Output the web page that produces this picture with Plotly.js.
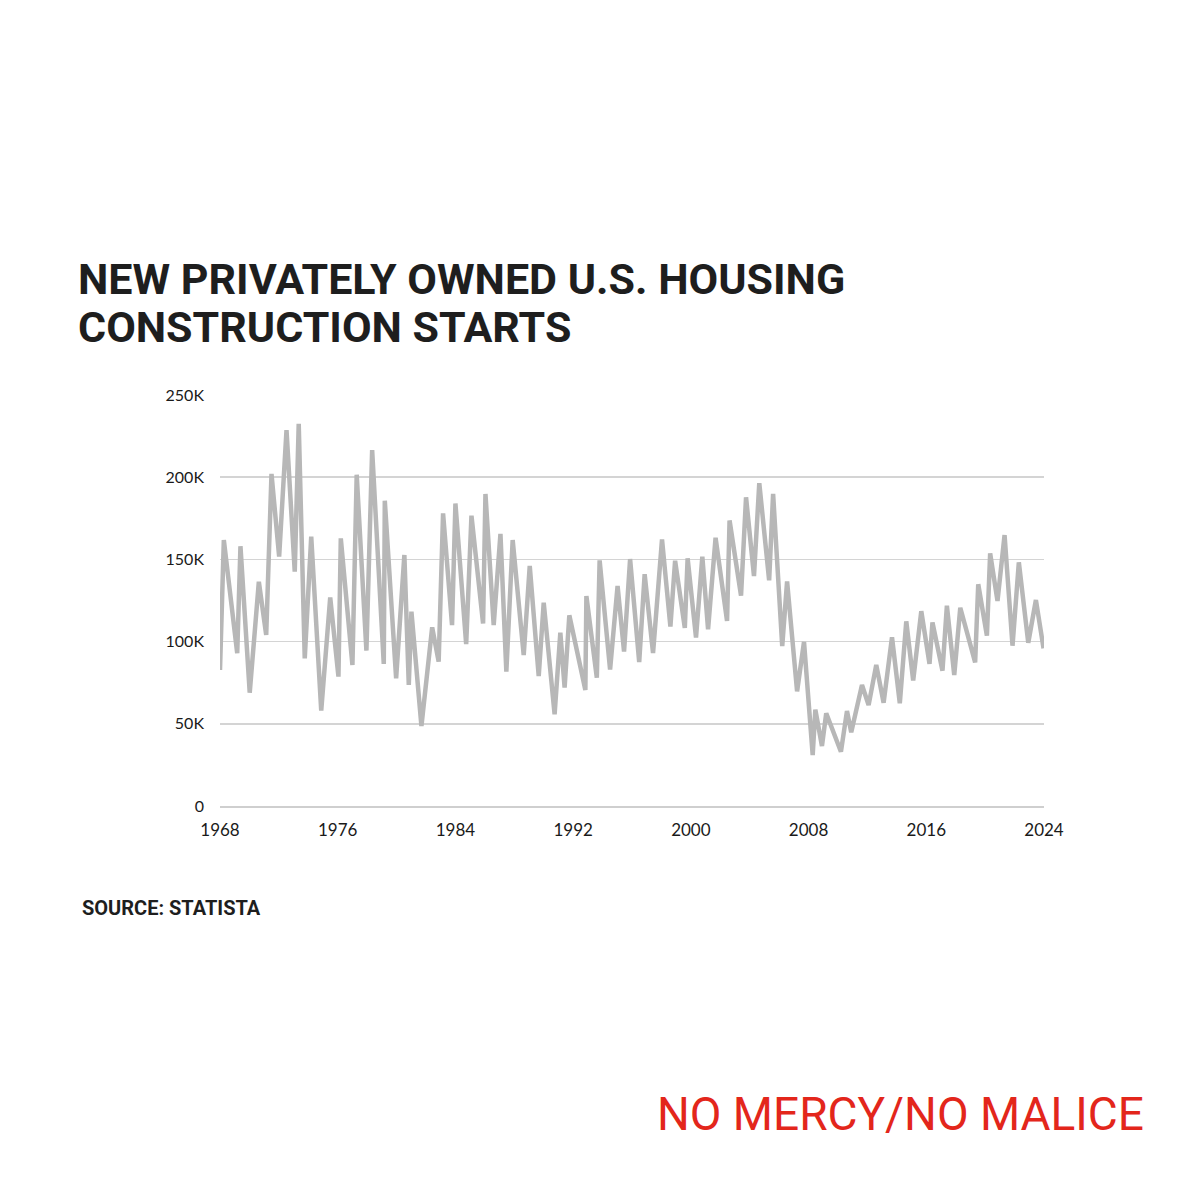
<!DOCTYPE html>
<html>
<head>
<meta charset="utf-8">
<script src="https://cdn.plot.ly/plotly-3.0.1.min.js"></script>
<style>
  html, body { margin: 0; padding: 0; background: #ffffff; }
  #chart { width: 1200px; height: 1200px; }
</style>
</head>
<body>
<div id="chart"></div>
<script>
// Time positions (fractional years) of each point
const years = [
  1968.00, 1968.26, 1969.17, 1969.39, 1970.02, 1970.64, 1971.14, 1971.50, 1972.02, 1972.52,
  1973.08, 1973.35, 1973.76, 1974.20, 1974.88, 1975.49, 1976.05, 1976.21, 1977.00, 1977.29,
  1977.95, 1978.34, 1979.13, 1979.20, 1979.97, 1980.53, 1980.83, 1981.01, 1981.69, 1982.42,
  1982.86, 1983.16, 1983.77, 1984.00, 1984.73, 1985.09, 1985.88, 1986.04, 1986.60, 1987.06,
  1987.46, 1987.89, 1988.64, 1989.05, 1989.66, 1990.00, 1990.74, 1991.13, 1991.42, 1991.74,
  1992.83, 1992.90, 1993.61, 1993.80, 1994.51, 1995.02, 1995.46, 1995.87, 1996.49, 1996.86,
  1997.43, 1998.04, 1998.61, 1998.93, 1999.59, 1999.78, 2000.35, 2000.78, 2001.17, 2001.68,
  2002.46, 2002.63, 2003.41, 2003.75, 2004.29, 2004.65, 2005.32, 2005.59, 2006.21, 2006.54,
  2007.22, 2007.69, 2008.28, 2008.46, 2008.91, 2009.20, 2010.20, 2010.61, 2010.90, 2011.63,
  2012.08, 2012.60, 2013.10, 2013.67, 2014.20, 2014.64, 2015.11, 2015.66, 2016.22, 2016.42,
  2017.10, 2017.40, 2017.90, 2018.31, 2019.32, 2019.53, 2020.12, 2020.34, 2020.84, 2021.32,
  2021.86, 2022.29, 2022.93, 2023.45, 2023.97
];

// Housing starts (thousands of units)
const starts = [
  82.7, 161.8, 92.9, 158.0, 68.9, 136.4, 104.0, 202.0, 151.7, 228.7,
  142.5, 232.4, 89.8, 163.8, 58.0, 126.9, 78.7, 162.8, 85.8, 201.5,
  94.5, 216.5, 86.4, 185.7, 77.7, 152.7, 73.6, 118.2, 48.7, 108.7,
  87.8, 178.0, 110.0, 184.0, 98.5, 176.6, 111.0, 189.8, 110.0, 165.5,
  81.7, 161.8, 91.8, 146.0, 79.0, 123.7, 55.8, 105.4, 72.0, 116.0,
  70.6, 127.7, 78.0, 149.4, 83.0, 133.8, 93.9, 150.2, 87.6, 141.0,
  93.0, 162.2, 109.1, 149.2, 108.3, 150.7, 102.5, 151.7, 107.5, 163.2,
  112.6, 173.7, 128.0, 187.8, 139.9, 196.4, 137.3, 189.8, 97.3, 136.6,
  69.7, 99.8, 31.0, 58.6, 36.5, 56.4, 33.0, 57.8, 44.8, 73.6,
  61.4, 85.8, 62.8, 102.6, 62.5, 112.3, 76.4, 118.5, 86.4, 111.7,
  82.3, 121.8, 79.7, 120.6, 87.4, 134.9, 103.6, 153.7, 124.7, 164.8,
  97.5, 148.2, 99.3, 125.3, 95.9
].map(v => v * 1000);

const yTickVals = [0, 50000, 100000, 150000, 200000, 250000];
const yTickText = ["0", "50K", "100K", "150K", "200K", "250K"];
const xTickVals = [1968, 1976, 1984, 1992, 2000, 2008, 2016, 2024];
const xTickText = ["1968", "1976", "1984", "1992", "2000", "2008", "2016", "2024"];

const titleLines = ["NEW PRIVATELY OWNED U.S. HOUSING", "CONSTRUCTION STARTS"];
const sourceText = "SOURCE: STATISTA";
const brandText = "NO MERCY/NO MALICE";

// plot area in pixels
const L = 220, R = 1044, T = 395, B = 806;
const W = 1200, H = 1200;
const px = x => (x - L) / (R - L);
const py = y => (B - y) / (B - T);

const handFont = "Roboto, 'DejaVu Sans Condensed', sans-serif";

const trace = {
  x: years,
  y: starts,
  type: 'scatter',
  mode: 'lines',
  line: { color: '#b7b7b7', width: 4.5, shape: 'linear' },
  hoverinfo: 'skip'
};

const layout = {
  width: W,
  height: H,
  paper_bgcolor: '#ffffff',
  plot_bgcolor: '#ffffff',
  showlegend: false,
  margin: { l: L, r: W - R, t: T, b: H - B, pad: 0 },
  xaxis: {
    range: [1968, 2024],
    tickvals: xTickVals,
    ticktext: xTickText,
    showgrid: false,
    zeroline: false,
    showline: true,
    linecolor: '#cfcfcf',
    linewidth: 1.5,
    ticks: '',
    ticklabelstandoff: 8,
    tickfont: { family: "Lato, 'Open Sans', sans-serif", size: 17, color: '#1a1a1a' },
    fixedrange: true
  },
  yaxis: {
    range: [0, 250000],
    tickvals: yTickVals,
    ticktext: yTickText,
    showgrid: true,
    gridcolor: '#d4d4d4',
    gridwidth: 1.5,
    zeroline: false,
    showline: false,
    ticks: '',
    ticklabelstandoff: 15,
    tickfont: { family: "Lato, 'Open Sans', sans-serif", size: 16, color: '#1a1a1a' },
    fixedrange: true
  },
  annotations: [
    {
      xref: 'paper', yref: 'paper',
      x: px(76), y: py(279), xanchor: 'left', yanchor: 'middle',
      text: '<b>' + titleLines[0] + '</b>', showarrow: false,
      font: { family: handFont, size: 43, color: '#1e1e1e' }
    },
    {
      xref: 'paper', yref: 'paper',
      x: px(76), y: py(327), xanchor: 'left', yanchor: 'middle',
      text: '<b>' + titleLines[1] + '</b>', showarrow: false,
      font: { family: handFont, size: 43, color: '#1e1e1e' }
    },
    {
      xref: 'paper', yref: 'paper',
      x: px(80), y: py(908), xanchor: 'left', yanchor: 'middle',
      text: '<b>' + sourceText + '</b>', showarrow: false,
      font: { family: handFont, size: 20, color: '#1e1e1e' }
    },
    {
      xref: 'paper', yref: 'paper',
      x: px(1146), y: py(1114), xanchor: 'right', yanchor: 'middle',
      text: brandText, showarrow: false,
      font: { family: handFont, size: 46, color: '#e3261b' }
    }
  ]
};

Plotly.newPlot('chart', [trace], layout, { displayModeBar: false, staticPlot: true });
</script>
</body>
</html>
